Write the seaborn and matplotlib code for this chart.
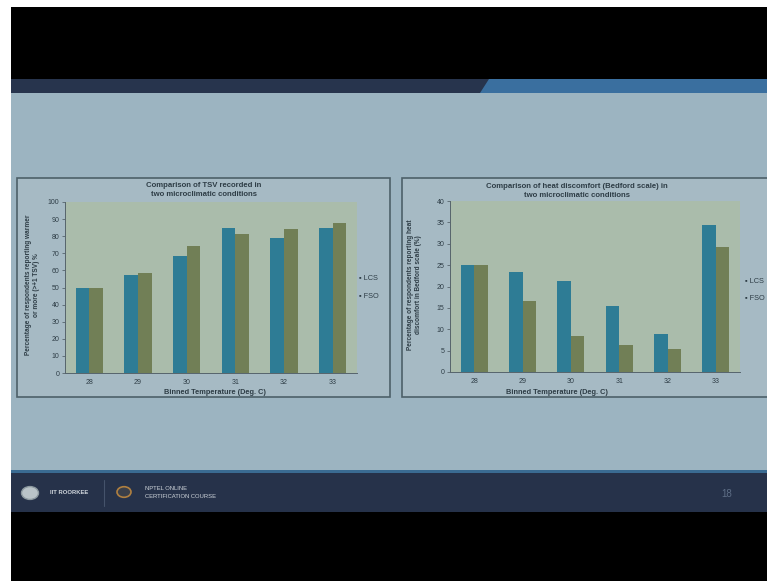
import matplotlib
matplotlib.use("Agg")
import matplotlib.pyplot as plt
from matplotlib.patches import Rectangle, Polygon, Circle
import matplotlib.lines as mlines
import seaborn as sns
import pandas as pd

# ---- data ----
temps = ["28", "29", "30", "31", "32", "33"]
groups = ["LCS", "FSO"]
tsv_lcs = [50, 57.5, 68.5, 85, 79, 85]
tsv_fso = [50, 58.5, 74.5, 81, 84.5, 87.5]
bed_lcs = [25, 23.5, 21.2, 15.5, 9.0, 34.5]
bed_fso = [25, 16.7, 8.5, 6.2, 5.3, 29.2]
tsv_ticks = list(range(0, 101, 10))
bed_ticks = list(range(0, 41, 5))

sns.set_theme(style="white")
plt.rcParams["font.family"] = ["Liberation Sans", "DejaVu Sans"]

W, H = 767, 581
fig = plt.figure(figsize=(W / 100, H / 100), dpi=100)
fig.patch.set_facecolor("white")


def box(x, y, w, h):
    return (x / W, 1 - (y + h) / H), w / W, h / H


def rect(x, y, w, h, fc, ec="none", lw=0, z=-10):
    (x0, y0), ww, hh = box(x, y, w, h)
    fig.add_artist(Rectangle((x0, y0), ww, hh, transform=fig.transFigure,
                             facecolor=fc, edgecolor=ec, linewidth=lw, zorder=z))


def pt(x, y):
    return (x / W, 1 - y / H)


# slide background
rect(11, 7, W - 11, 73, "#000000")
rect(11, 79, W - 11, 14, "#27344d")
fig.add_artist(Polygon([pt(480, 93), pt(489, 79), pt(W, 79), pt(W, 93)],
                       closed=True, transform=fig.transFigure,
                       facecolor="#3a6f9f", edgecolor="none", zorder=-9))
rect(11, 93, W - 11, 377, "#9cb4c1")
rect(11, 470, W - 11, 3, "#3a6b92")
rect(11, 473, W - 11, 39, "#26324a")
rect(11, 512, W - 11, H - 512, "#000000")

# footer decorations
fig.add_artist(Circle(pt(30, 493), 8.5 / W, transform=fig.transFigure,
                      facecolor="#b9c3c8", edgecolor="#8c99a0", zorder=-8))
fig.text(50 / W, 1 - 493 / H, "IIT ROORKEE", fontsize=4.2, color="#d0d6dc",
         va="center", ha="left", fontweight="bold")
fig.add_artist(mlines.Line2D([104 / W, 104 / W], [1 - 480 / H, 1 - 506 / H],
                             transform=fig.transFigure, color="#45536b", lw=0.8))
fig.add_artist(Circle(pt(124, 492), 7 / W, transform=fig.transFigure,
                      facecolor="#3a3f4a", edgecolor="#b08040", lw=1.2, zorder=-8))
fig.text(145 / W, 1 - 488 / H, "NPTEL ONLINE", fontsize=4.2, color="#d0d6dc",
         va="center", ha="left")
fig.text(145 / W, 1 - 497 / H, "CERTIFICATION COURSE", fontsize=4.2, color="#d0d6dc",
         va="center", ha="left")
fig.text(727 / W, 1 - 494 / H, "18", fontsize=7, color="#5e6e86",
         va="center", ha="center")

# chart boxes
rect(17, 178, 373, 219, "#a6bac4", ec="#4d6069", lw=1.2, z=-5)
rect(402, 178, 372, 219, "#a6bac4", ec="#4d6069", lw=1.2, z=-5)

pal = {"LCS": "#2e7c95", "FSO": "#717f56"}
txt = "#2e3d46"


def make_df(a, b):
    rows = []
    for t, v in zip(temps, a):
        rows.append({"temp": t, "group": "LCS", "value": v})
    for t, v in zip(temps, b):
        rows.append({"temp": t, "group": "FSO", "value": v})
    return pd.DataFrame(rows)


def draw(rect_px, df, ticks, ymax, title, title_xy, ylabel, ylabel_x, xlabel_xy, leg_xy):
    (x0, y0), ww, hh = box(*rect_px)
    ax = fig.add_axes([x0, y0, ww, hh])
    ax.set_facecolor("#aabcab")
    sns.barplot(data=df, x="temp", y="value", hue="group", hue_order=groups,
                order=temps, palette=pal, width=0.56, saturation=1,
                linewidth=0, edgecolor="none",
                ax=ax, legend=False, errorbar=None)
    ax.set_ylim(0, ymax)
    ax.set_xlim(-0.5, 5.5)
    ax.set_yticks(ticks)
    ax.set_yticklabels([str(t) for t in ticks], fontsize=5, color=txt)
    ax.set_xticks(range(len(temps)))
    ax.set_xticklabels(temps, fontsize=5, color=txt)
    ax.set_xticks([i - 0.5 for i in range(len(temps) + 1)], minor=True)
    ax.tick_params(axis="x", which="major", length=0, pad=4.5)
    ax.tick_params(axis="x", which="minor", length=2.5, width=0.6, color="#56646c", direction="out")
    ax.tick_params(axis="y", which="major", length=2.5, width=0.6, color="#56646c", pad=1.5,
                   direction="out", left=True)
    for s in ["top", "right"]:
        ax.spines[s].set_visible(False)
    for s in ["left", "bottom"]:
        ax.spines[s].set_color("#56646c")
        ax.spines[s].set_linewidth(0.7)
    ax.set_xlabel("")
    ax.set_ylabel("")
    fig.text(*pt(*title_xy), title, fontsize=5.6, fontweight="bold", color=txt,
             ha="center", va="center", linespacing=1.25)
    fig.text(*pt(ylabel_x, 285), ylabel, fontsize=4.7, fontweight="bold", color=txt,
             ha="center", va="center", rotation=90, linespacing=1.2)
    fig.text(*pt(*xlabel_xy), "Binned Temperature (Deg. C)", fontsize=5.3,
             fontweight="bold", color=txt, ha="center", va="center")
    for i, g in enumerate(groups):
        lx, ly = leg_xy
        fig.text(*pt(lx, ly + i * 17), "\u25aa " + g, fontsize=5.3, color=txt,
                 ha="left", va="center")
    return ax


draw((65, 202, 292, 171), make_df(tsv_lcs, tsv_fso), tsv_ticks, 100,
     "Comparison of TSV recorded in\ntwo microclimatic conditions", (204, 190),
     "Percentage of respondents reporting warmer\nor more (>+1 TSV) %", 33,
     (215, 392), (359, 279))
draw((450, 201, 290, 171), make_df(bed_lcs, bed_fso), bed_ticks, 40,
     "Comparison of heat discomfort (Bedford scale) in\ntwo microclimatic conditions", (577, 191),
     "Percentage of respondents reporting heat\ndiscomfort in Bedford scale (%)", 415,
     (557, 392), (745, 281))

fig.savefig("out.png", dpi=100, facecolor=fig.get_facecolor())
